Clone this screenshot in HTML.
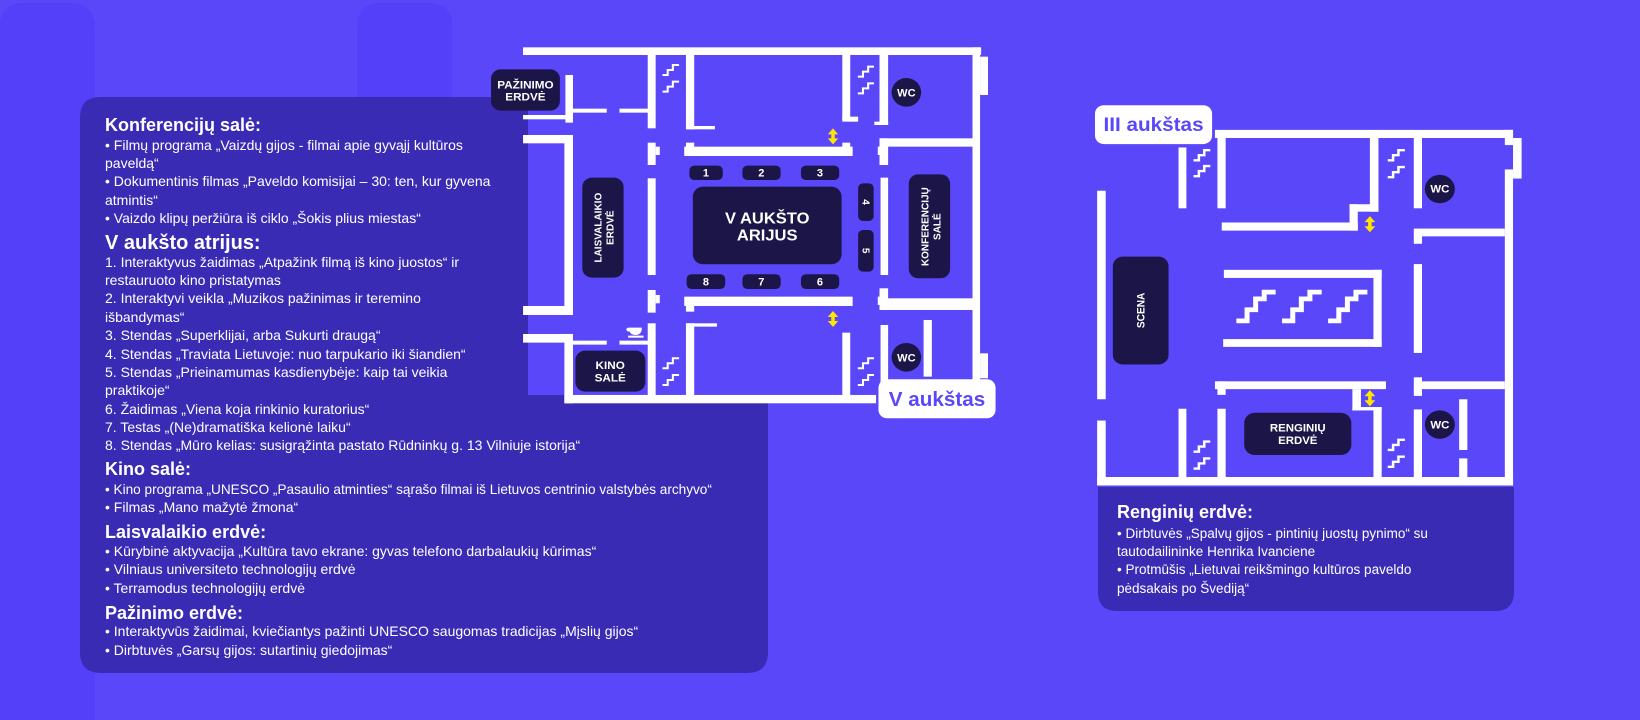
<!DOCTYPE html>
<html><head><meta charset="utf-8"><style>
html,body{margin:0;padding:0;background:#5A47F9;}
svg{display:block;}
.t{font-family:"Liberation Sans",sans-serif;fill:#fff;}
</style></head><body>
<svg width="1640" height="720" viewBox="0 0 1640 720" xmlns="http://www.w3.org/2000/svg">
<rect width="1640" height="720" fill="#5A47F9"/>
<g fill="#5340F8">
<path d="M0,25 Q0,3 25,3 H70 Q95,3 95,28 V720 H0Z"/>
<path d="M357,28 Q357,3 380,3 H430 Q452,3 452,28 V100 H357Z"/>
</g>
<!-- left panel -->
<path d="M100,97 H528 V395 H768 V652 Q768,673 747,673 H101 Q80,673 80,652 V118 Q80,97 100,97Z" fill="#3A2BB4"/>
<!-- right panel -->
<path d="M1098,487 H1514 V592 Q1514,611 1495,611 H1117 Q1098,611 1098,592Z" fill="#3A2BB4"/>

<!-- V floor -->
<g transform="translate(480,30) scale(0.3444,0.3333)">
<g fill="#fff">
<rect x="125" y="52" width="1330" height="23"/>
<rect x="1430" y="52" width="22" height="1000"/>
<rect x="1452" y="80" width="23" height="115"/>
<rect x="1452" y="970" width="23" height="75"/>
<rect x="125" y="255" width="145" height="13"/>
<rect x="248" y="135" width="22" height="143"/>
<rect x="270" y="236" width="98" height="12"/>
<rect x="405" y="236" width="85" height="12"/>
<rect x="487" y="75" width="23" height="220"/>
<rect x="598" y="75" width="24" height="223"/>
<rect x="598" y="288" width="84" height="10"/>
<rect x="1052" y="75" width="23" height="195"/>
<rect x="1052" y="260" width="46" height="15"/>
<rect x="1160" y="75" width="25" height="210"/>
<rect x="1145" y="275" width="40" height="10"/>
<rect x="1160" y="325" width="270" height="25"/>
<rect x="1160" y="325" width="25" height="80"/>
<rect x="1155" y="350" width="10" height="25"/>
<rect x="1163" y="443" width="22" height="292"/>
<rect x="1160" y="805" width="270" height="35"/>
<rect x="1160" y="775" width="25" height="65"/>
<rect x="1155" y="800" width="10" height="25"/>
<rect x="1163" y="885" width="22" height="215"/>
<rect x="1288" y="870" width="24" height="170"/>
<rect x="245" y="1095" width="905" height="25"/>
<rect x="125" y="315" width="145" height="25"/>
<rect x="245" y="315" width="25" height="540"/>
<rect x="125" y="828" width="145" height="27"/>
<rect x="125" y="912" width="145" height="26"/>
<rect x="245" y="912" width="25" height="208"/>
<rect x="270" y="932" width="98" height="12"/>
<rect x="405" y="932" width="85" height="12"/>
<rect x="487" y="880" width="23" height="220"/>
<rect x="598" y="880" width="24" height="220"/>
<rect x="598" y="880" width="90" height="10"/>
<rect x="1052" y="908" width="23" height="192"/>
<rect x="487" y="338" width="23" height="67"/>
<rect x="510" y="350" width="12" height="25"/>
<rect x="487" y="445" width="23" height="290"/>
<rect x="487" y="780" width="23" height="68"/>
<rect x="510" y="795" width="12" height="25"/>
<rect x="593" y="350" width="489" height="28"/>
<rect x="598" y="338" width="24" height="15"/>
<rect x="1052" y="338" width="23" height="15"/>
<rect x="593" y="800" width="489" height="28"/>
<rect x="598" y="825" width="24" height="20"/>
</g>
<g fill="none" stroke="#fff" stroke-width="6">
<polyline points="530,135 545,135 545,120 560,120 560,105 578,105"/>
<polyline points="530,185 545,185 545,170 560,170 560,155 578,155"/>
<polyline points="1097,140 1112,140 1112,125 1127,125 1127,110 1144,110"/>
<polyline points="1097,190 1112,190 1112,175 1127,175 1127,160 1144,160"/>
<polyline points="530,1015 545,1015 545,1000 560,1000 560,985 578,985"/>
<polyline points="530,1065 545,1065 545,1050 560,1050 560,1035 578,1035"/>
<polyline points="1097,1015 1112,1015 1112,1000 1127,1000 1127,985 1144,985"/>
<polyline points="1097,1065 1112,1065 1112,1050 1127,1050 1127,1035 1144,1035"/>
</g>
<g fill="#fff"><path d="M433,893 H470 Q470,915 452,915 Q437,915 435,905 Q425,905 425,899 Q425,893 433,893Z M430,917 H475 V923 H430Z"/></g>
<g fill="#FFE600">
<path d="M1025,295 L1040,313 H1030 V325 H1040 L1025,343 L1010,325 H1020 V313 H1010Z"/>
<path d="M1025,843 L1040,861 H1030 V873 H1040 L1025,891 L1010,873 H1020 V861 H1010Z"/>
</g>
<g fill="#1C1648">
<rect x="32" y="118" width="200" height="124" rx="28"/>
<rect x="297" y="443" width="120" height="300" rx="28"/>
<rect x="277" y="962" width="203" height="123" rx="28"/>
<rect x="608" y="407" width="97" height="43" rx="14"/>
<rect x="762" y="407" width="111" height="43" rx="14"/>
<rect x="932" y="407" width="111" height="43" rx="14"/>
<rect x="600" y="733" width="112" height="44" rx="14"/>
<rect x="762" y="733" width="111" height="44" rx="14"/>
<rect x="932" y="733" width="111" height="44" rx="14"/>
<rect x="1098" y="460" width="45" height="113" rx="14"/>
<rect x="1098" y="600" width="45" height="125" rx="14"/>
<rect x="618" y="470" width="432" height="233" rx="30"/>
<rect x="1245" y="433" width="120" height="312" rx="28"/>
<circle cx="1238" cy="187" r="43"/>
<circle cx="1238" cy="982" r="43"/>
</g>
<rect x="1157" y="1048" width="340" height="117" rx="25" fill="#fff"/>
<g class="t" font-weight="bold" text-anchor="middle">
<text x="132" y="175" font-size="34">PAŽINIMO</text>
<text x="132" y="212" font-size="34">ERDVĖ</text>
<text x="378" y="1017" font-size="34">KINO</text>
<text x="378" y="1055" font-size="34">SALĖ</text>
<text x="656" y="440" font-size="32">1</text>
<text x="817" y="440" font-size="32">2</text>
<text x="987" y="440" font-size="32">3</text>
<text x="656" y="767" font-size="32">8</text>
<text x="817" y="767" font-size="32">7</text>
<text x="987" y="767" font-size="32">6</text>
<text transform="translate(1110,516) rotate(90)" font-size="30">4</text>
<text transform="translate(1110,662) rotate(90)" font-size="30">5</text>
<text x="834" y="580" font-size="48">V AUKŠTO</text>
<text x="834" y="632" font-size="48">ARIJUS</text>
<text transform="translate(353,593) rotate(-90)" font-size="30">LAISVALAIKIO</text>
<text transform="translate(388,593) rotate(-90)" font-size="30">ERDVĖ</text>
<text transform="translate(1302,590) rotate(-90)" font-size="30">KONFERENCIJŲ</text>
<text transform="translate(1337,590) rotate(-90)" font-size="30">SALĖ</text>
<text x="1238" y="199" font-size="32">WC</text>
<text x="1238" y="994" font-size="32">WC</text>
<text x="1327" y="1128" font-size="60" style="fill:#5A47F9">V aukštas</text>
</g>
</g>

<!-- III floor -->
<g transform="translate(1080,90) scale(0.357,0.338)">
<g fill="#fff">
<rect x="378" y="118" width="835" height="24"/>
<rect x="1190" y="118" width="23" height="45"/>
<rect x="1213" y="142" width="24" height="120"/>
<rect x="1190" y="235" width="23" height="935"/>
<rect x="276" y="170" width="22" height="180"/>
<rect x="385" y="130" width="23" height="220"/>
<rect x="812" y="130" width="24" height="230"/>
<rect x="397" y="392" width="381" height="24"/>
<rect x="755" y="338" width="23" height="78"/>
<rect x="755" y="338" width="81" height="22"/>
<rect x="935" y="130" width="23" height="220"/>
<rect x="958" y="410" width="232" height="23"/>
<rect x="935" y="410" width="23" height="45"/>
<rect x="935" y="515" width="23" height="263"/>
<rect x="958" y="862" width="232" height="23"/>
<rect x="935" y="850" width="23" height="55"/>
<rect x="48" y="298" width="24" height="617"/>
<rect x="48" y="978" width="24" height="192"/>
<rect x="403" y="532" width="442" height="24"/>
<rect x="822" y="532" width="23" height="228"/>
<rect x="401" y="737" width="444" height="23"/>
<rect x="378" y="862" width="479" height="23"/>
<rect x="385" y="862" width="23" height="40"/>
<rect x="763" y="885" width="24" height="63"/>
<rect x="763" y="938" width="82" height="10"/>
<rect x="822" y="938" width="23" height="212"/>
<rect x="276" y="943" width="22" height="207"/>
<rect x="385" y="943" width="23" height="207"/>
<rect x="935" y="945" width="23" height="205"/>
<rect x="1062" y="915" width="23" height="150"/>
<rect x="1062" y="1090" width="23" height="60"/>
<rect x="48" y="1145" width="1165" height="25"/>
</g>
<g fill="none" stroke="#fff" stroke-width="7">
<polyline points="318,208 333,208 333,193 348,193 348,178 365,178"/>
<polyline points="318,255 333,255 333,240 348,240 348,225 365,225"/>
<polyline points="862,208 877,208 877,193 892,193 892,178 910,178"/>
<polyline points="862,258 877,258 877,243 892,243 892,228 910,228"/>
<polyline points="318,1070 333,1070 333,1055 348,1055 348,1040 365,1040"/>
<polyline points="318,1120 333,1120 333,1105 348,1105 348,1090 365,1090"/>
<polyline points="862,1065 877,1065 877,1050 892,1050 892,1035 910,1035"/>
<polyline points="862,1115 877,1115 877,1100 892,1100 892,1085 910,1085"/>
</g>
<g fill="none" stroke="#fff" stroke-width="14">
<polyline points="438,683 468,683 468,650 492,650 492,618 516,618 516,598 548,598"/>
<polyline points="566,683 596,683 596,650 620,650 620,618 644,618 644,598 677,598"/>
<polyline points="695,683 725,683 725,650 749,650 749,618 773,618 773,598 805,598"/>
</g>
<g fill="#FFE600">
<path d="M812,373 L827,391 H817 V403 H827 L812,421 L797,403 H807 V391 H797Z"/>
<path d="M812,888 L827,906 H817 V918 H827 L812,936 L797,918 H807 V906 H797Z"/>
</g>
<g fill="#1C1648">
<rect x="92" y="493" width="156" height="319" rx="28"/>
<rect x="460" y="955" width="300" height="125" rx="30"/>
<circle cx="1008" cy="293" r="42"/>
<circle cx="1008" cy="990" r="42"/>
</g>
<rect x="42" y="45" width="328" height="115" rx="25" fill="#fff"/>
<g class="t" font-weight="bold" text-anchor="middle">
<text transform="translate(181,652) rotate(-90)" font-size="30">SCENA</text>
<text x="610" y="1010" font-size="32">RENGINIŲ</text>
<text x="610" y="1048" font-size="32">ERDVĖ</text>
<text x="1008" y="304" font-size="32">WC</text>
<text x="1008" y="1001" font-size="32">WC</text>
<text x="206" y="122" font-size="58" style="fill:#5A47F9">III aukštas</text>
</g>
</g>

<!-- left text -->
<g class="t">
<g font-weight="bold" font-size="18">
<text x="105" y="131">Konferencijų salė:</text>
<text x="105" y="249" font-size="20">V aukšto atrijus:</text>
<text x="105" y="475">Kino salė:</text>
<text x="105" y="538">Laisvalaikio erdvė:</text>
<text x="105" y="619">Pažinimo erdvė:</text>
</g>
<g font-size="14">
<text x="105" y="150">• Filmų programa „Vaizdų gijos - filmai apie gyvąjį kultūros</text>
<text x="105" y="168">paveldą“</text>
<text x="105" y="186">• Dokumentinis filmas „Paveldo komisijai – 30: ten, kur gyvena</text>
<text x="105" y="205">atmintis“</text>
<text x="105" y="223">• Vaizdo klipų peržiūra iš ciklo „Šokis plius miestas“</text>
<text x="105" y="267">1.  Interaktyvus žaidimas „Atpažink filmą iš kino juostos“ ir</text>
<text x="105" y="285">restauruoto kino pristatymas</text>
<text x="105" y="303">2. Interaktyvi veikla „Muzikos pažinimas ir teremino</text>
<text x="105" y="322">išbandymas“</text>
<text x="105" y="340">3. Stendas „Superklijai, arba Sukurti draugą“</text>
<text x="105" y="359">4. Stendas „Traviata Lietuvoje: nuo tarpukario iki šiandien“</text>
<text x="105" y="377">5. Stendas „Prieinamumas kasdienybėje: kaip tai veikia</text>
<text x="105" y="395">praktikoje“</text>
<text x="105" y="414">6. Žaidimas „Viena koja rinkinio kuratorius“</text>
<text x="105" y="432">7. Testas „(Ne)dramatiška kelionė laiku“</text>
<text x="105" y="450">8. Stendas „Mūro kelias: susigrąžinta pastato Rūdninkų g. 13 Vilniuje istorija“</text>
<text x="105" y="494" font-size="13.6">• Kino programa „UNESCO „Pasaulio atminties“ sąrašo filmai iš Lietuvos centrinio valstybės archyvo“</text>
<text x="105" y="512">• Filmas „Mano mažytė žmona“</text>
<text x="105" y="556">• Kūrybinė aktyvacija „Kultūra tavo ekrane: gyvas telefono darbalaukių kūrimas“</text>
<text x="105" y="574">• Vilniaus universiteto technologijų erdvė</text>
<text x="105" y="593">• Terramodus technologijų erdvė</text>
<text x="105" y="636">• Interaktyvūs žaidimai, kviečiantys pažinti UNESCO saugomas tradicijas „Mįslių gijos“</text>
<text x="105" y="655">• Dirbtuvės „Garsų gijos: sutartinių giedojimas“</text>
</g>
<text x="1117" y="518" font-weight="bold" font-size="18">Renginių erdvė:</text>
<g font-size="13.5">
<text x="1117" y="538">• Dirbtuvės „Spalvų gijos - pintinių juostų pynimo“ su</text>
<text x="1117" y="556">tautodailininke Henrika Ivanciene</text>
<text x="1117" y="574">• Protmūšis „Lietuvai reikšmingo kultūros paveldo</text>
<text x="1117" y="593">pėdsakais po Švediją“</text>
</g>
</g>
</svg>
</body></html>
